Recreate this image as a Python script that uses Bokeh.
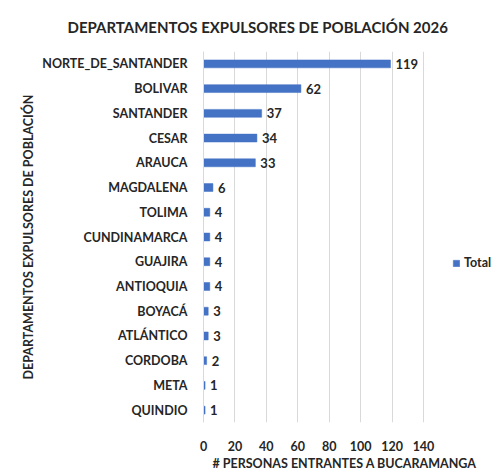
from bokeh.plotting import figure
from bokeh.models import ColumnDataSource, FactorRange, Range1d, FixedTicker, Legend, LegendItem, Title
from bokeh.core.properties import value
from bokeh.embed import file_html
from bokeh.resources import INLINE

departamentos = ["NORTE_DE_SANTANDER", "BOLIVAR", "SANTANDER", "CESAR", "ARAUCA",
                 "MAGDALENA", "TOLIMA", "CUNDINAMARCA", "GUAJIRA", "ANTIOQUIA",
                 "BOYACÁ", "ATLÁNTICO", "CORDOBA", "META", "QUINDIO"]
personas = [119, 62, 37, 34, 33, 6, 4, 4, 4, 4, 3, 3, 2, 1, 1]
x_ticks = [0, 20, 40, 60, 80, 100, 120, 140]

FONT = "Lato"
TXT = "#262626"
BLUE = "#4472C4"

W, H = 496, 471
src = ColumnDataSource(dict(dep=departamentos, val=personas,
                            lab=[str(v) for v in personas]))

# frame spans to the right edge so the legend (outside the 0-140 axis) is not clipped
FRAME_W = W - 203
X_MAX = 140 * FRAME_W / 220.0

p = figure(width=W, height=H, output_backend="svg", toolbar_location=None,
           y_range=FactorRange(factors=list(reversed(departamentos))),
           x_range=Range1d(0, X_MAX),
           min_border_left=203, min_border_right=0, min_border_top=51, min_border_bottom=49)

p.add_layout(Title(text="DEPARTAMENTOS EXPULSORES DE POBLACIÓN 2026", align="left", offset=-136,
                   text_font=FONT, text_font_size="15px", text_font_style="bold",
                   text_color=TXT, standoff=31), "above")
p.add_layout(Title(text="# PERSONAS ENTRANTES  A BUCARAMANGA", align="left", offset=9,
                   text_font=FONT, text_font_size="12.5px", text_font_style="bold",
                   text_color=TXT, standoff=0), "below")

bars = p.hbar(y="dep", right="val", left=0, height=0.32, source=src,
              fill_color=BLUE, line_color=BLUE, line_width=0.5)
p.text(x="val", y="dep", text="lab", source=src, x_offset=5,
       text_baseline="middle", text_align="left",
       text_font=value(FONT), text_font_size="13px", text_font_style="bold", text_color=TXT)

p.outline_line_color = None
p.background_fill_color = "white"
p.ygrid.grid_line_color = None
p.xgrid.grid_line_color = "#d9d9d9"
p.xgrid.grid_line_width = 1

p.xaxis.ticker = FixedTicker(ticks=x_ticks)
p.xaxis.axis_line_color = None
p.xaxis.major_tick_line_color = None
p.xaxis.minor_tick_line_color = None
p.xaxis.major_label_standoff = 12

p.yaxis.axis_line_color = "#d9d9d9"
p.yaxis.major_tick_line_color = None
p.yaxis.minor_tick_line_color = None
p.yaxis.major_label_standoff = 10
p.yaxis.axis_label = "DEPARTAMENTOS EXPULSORES DE POBLACIÓN"
p.yaxis.axis_label_standoff = 3

for ax in (p.xaxis[0], p.yaxis[0]):
    ax.major_label_text_font = FONT
    ax.major_label_text_font_size = "12.5px"
    ax.major_label_text_font_style = "bold"
    ax.major_label_text_color = TXT
    ax.axis_label_text_font = FONT
    ax.axis_label_text_font_size = "12.5px"
    ax.axis_label_text_font_style = "bold"
    ax.axis_label_text_color = TXT

legend = Legend(items=[LegendItem(label="Total", renderers=[bars])],
                location=(249, 152), orientation="vertical",
                padding=0, margin=0, border_line_color=None, background_fill_alpha=0,
                glyph_width=8, glyph_height=8, label_height=14, label_standoff=4,
                label_text_font=FONT, label_text_font_size="12.5px",
                label_text_font_style="bold", label_text_color=TXT)
p.add_layout(legend, "center")

open("out.html", "w").write(file_html(p, INLINE))
